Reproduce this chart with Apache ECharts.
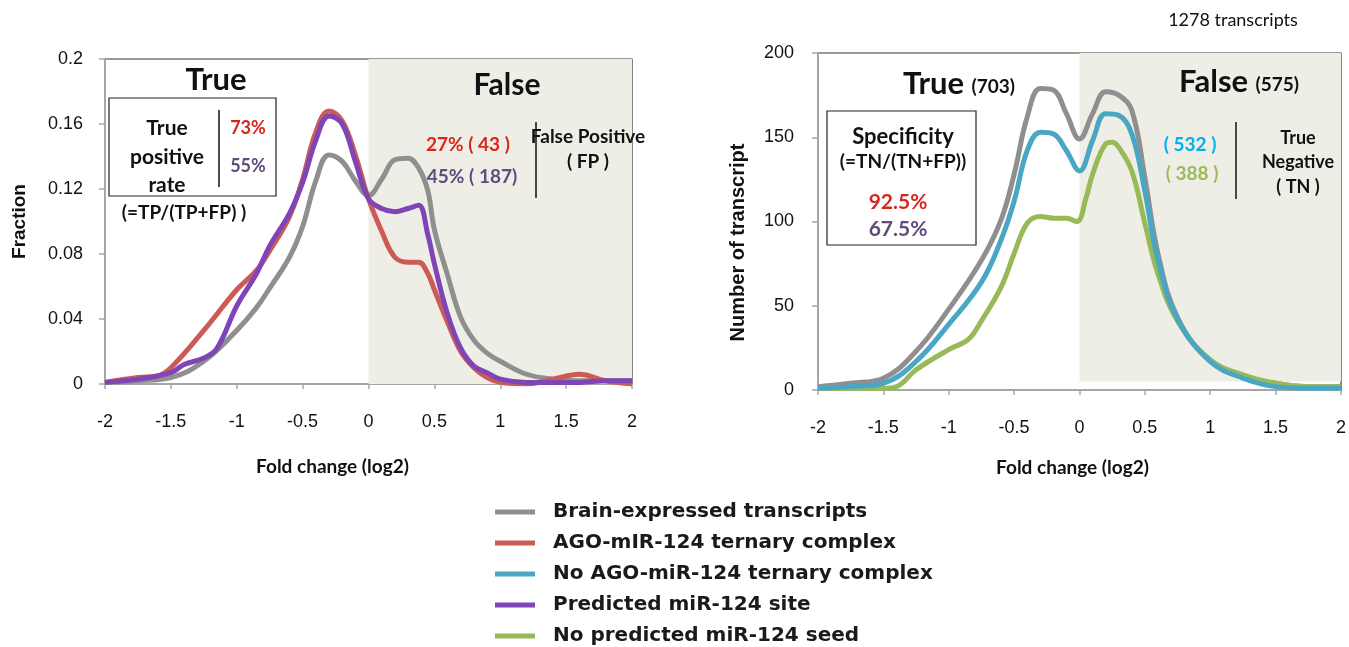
<!DOCTYPE html>
<html>
<head>
<meta charset="utf-8">
<script src="https://cdn.jsdelivr.net/npm/echarts@6/dist/echarts.min.js"></script>
<style>html,body{margin:0;padding:0;background:#fff}#c{width:1349px;height:647px}</style>
</head>
<body>
<div id="c"></div>
<script>
// ---------- data ----------
const seriesNames = ['Brain-expressed transcripts','AGO-mIR-124 ternary complex','No AGO-miR-124 ternary complex','Predicted miR-124 site','No predicted miR-124 seed'];
const xTicks = [-2,-1.5,-1,-0.5,0,0.5,1,1.5,2];
const leftYTicks = [0,0.04,0.08,0.12,0.16,0.2];
const rightYTicks = [0,50,100,150,200];

// Left panel (Fraction)
const leftGrayX = [-2,-1.75,-1.5,-1.25,-1,-0.85,-0.75,-0.6,-0.5,-0.4,-0.3,-0.2,-0.1,0,0.1,0.2,0.3,0.38,0.45,0.5,0.6,0.7,0.8,0.9,1,1.2,1.4,1.6,1.8,2];
const leftGrayY = [0.001,0.002,0.004,0.014,0.033,0.047,0.059,0.078,0.097,0.125,0.141,0.137,0.125,0.116,0.126,0.138,0.139,0.133,0.119,0.095,0.067,0.041,0.027,0.019,0.014,0.006,0.003,0.002,0.002,0.002];
const leftRedX = [-2,-1.75,-1.6,-1.5,-1.25,-1,-0.85,-0.75,-0.6,-0.5,-0.4,-0.3,-0.2,-0.1,0,0.1,0.2,0.3,0.38,0.45,0.5,0.6,0.7,0.8,0.9,1,1.2,1.4,1.6,1.8,2];
const leftRedY = [0.001,0.004,0.005,0.010,0.033,0.058,0.070,0.082,0.103,0.126,0.155,0.168,0.162,0.141,0.114,0.094,0.078,0.075,0.075,0.068,0.058,0.038,0.020,0.010,0.004,0.001,0.000,0.003,0.006,0.002,0.000];
const leftPurpleX = [-2,-1.75,-1.5,-1.4,-1.25,-1.15,-1,-0.85,-0.75,-0.6,-0.5,-0.4,-0.3,-0.2,-0.1,0,0.1,0.2,0.3,0.38,0.45,0.5,0.6,0.7,0.8,0.9,1,1.2,1.4,1.6,1.8,2];
const leftPurpleY = [0.001,0.003,0.007,0.012,0.016,0.022,0.048,0.068,0.085,0.105,0.124,0.150,0.165,0.160,0.137,0.114,0.108,0.106,0.108,0.110,0.092,0.074,0.043,0.022,0.011,0.007,0.003,0.001,0.001,0.001,0.002,0.002];

// Right panel (Number of transcript)
const rightX = [-2,-1.75,-1.5,-1.25,-1,-0.75,-0.6,-0.5,-0.4,-0.3,-0.2,-0.1,0,0.1,0.2,0.3,0.4,0.5,0.6,0.75,1,1.25,1.5,1.75,2];
const rightGrayY = [2,4,7,23,48,77,101,128,162,179,178,164,149,164,177,175,166,126,81,43,17,8,4,2,2];
const rightBlueY = [1,2,4,17,39,64,89,112,142,153,152,142,130,148,164,163,152,118,77,42,17,7,2,1,1];
const rightGreenX = [-2,-1.75,-1.5,-1.4,-1.25,-1,-0.85,-0.75,-0.6,-0.5,-0.4,-0.3,-0.2,-0.1,-0.02,0.05,0.1,0.2,0.25,0.3,0.4,0.5,0.6,0.75,1,1.25,1.5,1.75,2];
const rightGreenY = [1,1,1,2,12,24,30,41,61,81,99,103,102,102,100,114,128,146,147,144,130,99,69,41,18,9,4,2,2];

// ---------- styling ----------
const C = {gray:'#8f8f8f', red:'#cd5b55', blue:'#4aa7c4', purple:'#7f45b7', green:'#98b957', shade:'#efeee6'};
const tickFont = {fontFamily:'Liberation Sans, Arial', fontSize:18, color:'#111'};
const titleFontB = {fontFamily:'Lato, Open Sans', fontWeight:'bold', color:'#111'};
const pair = (xs, ys) => xs.map((x,i)=>[x, ys[i]]);

function xAxis(gridIndex, titleShift, gap){
  return {
    type:'value', gridIndex, min:-2, max:2, interval:0.5,
    axisLine:{show:true, onZero:false, lineStyle:{color:'#a6a6a6', width:2}},
    axisTick:{show:true, length:5, lineStyle:{color:'#a6a6a6', width:1.5}},
    axisLabel:Object.assign({margin:29, formatter:v=>String(+v.toFixed(1))}, tickFont),
    splitLine:{show:false},
    name:'Fold change (log2)', nameLocation:'middle', nameGap:gap,
    nameTextStyle:Object.assign({fontSize:19, padding:[0,titleShift,0,0]}, titleFontB)
  };
}

const option = {
  animation:false,
  backgroundColor:'#fff',
  grid:[
    {left:105, top:59, width:527, height:325, show:true, borderColor:'#333', borderWidth:1.2, backgroundColor:'transparent'},
    {left:818, top:53, width:524, height:337, show:true, borderColor:'#333', borderWidth:1.2, backgroundColor:'transparent'}
  ],
  xAxis:[xAxis(0,72,73), xAxis(1,14,68)],
  yAxis:[
    {type:'value', gridIndex:0, min:0, max:0.2, interval:0.04,
     axisLine:{show:true, onZero:false, lineStyle:{color:'#a6a6a6', width:2}},
     axisTick:{show:true, length:6, lineStyle:{color:'#a6a6a6', width:1.5}},
     axisLabel:Object.assign({margin:22, formatter:v=>String(+v.toFixed(2))}, tickFont),
     splitLine:{show:false},
     name:'Fraction', nameLocation:'middle', nameGap:76,
     nameTextStyle:{fontFamily:'Liberation Sans, Arial', fontWeight:'bold', fontSize:19, color:'#111'}},
    {type:'value', gridIndex:1, min:0, max:200, interval:50,
     axisLine:{show:true, onZero:false, lineStyle:{color:'#a6a6a6', width:2}},
     axisTick:{show:true, length:6, lineStyle:{color:'#a6a6a6', width:1.5}},
     axisLabel:Object.assign({margin:24}, tickFont),
     splitLine:{show:false},
     name:'Number of transcript', nameLocation:'middle', nameGap:70,
     nameTextStyle:{fontFamily:'Liberation Sans, Arial', fontWeight:'bold', fontSize:20, color:'#111', padding:[0,42,0,0]}}
  ],
  legend:{
    orient:'vertical', left:495, top:502, padding:0, itemGap:11, itemWidth:40, itemHeight:5, icon:'rect',
    data:[seriesNames[0],seriesNames[1],seriesNames[2],seriesNames[3],seriesNames[4]],
    textStyle:{fontFamily:'DejaVu Sans', fontWeight:'bold', fontSize:20, lineHeight:19, color:'#1a1a1a', padding:[0,0,0,13]},
    selectedMode:false
  },
  series:[
    {name:seriesNames[0], type:'line', xAxisIndex:0, yAxisIndex:0, data:pair(leftGrayX,leftGrayY), smooth:0.4, symbol:'none', color:C.gray, lineStyle:{width:5, color:C.gray}, z:2,
     markArea:{silent:true, itemStyle:{color:C.shade}, data:[[{xAxis:0, yAxis:0},{xAxis:2, yAxis:0.2}]]}},
    {name:seriesNames[1], type:'line', xAxisIndex:0, yAxisIndex:0, data:pair(leftRedX,leftRedY), smooth:0.4, symbol:'none', color:C.red, lineStyle:{width:5, color:C.red}, z:3},
    {name:seriesNames[3], type:'line', xAxisIndex:0, yAxisIndex:0, data:pair(leftPurpleX,leftPurpleY), smooth:0.4, symbol:'none', color:C.purple, lineStyle:{width:5, color:C.purple}, z:4},
    {name:seriesNames[0], type:'line', xAxisIndex:1, yAxisIndex:1, data:pair(rightX,rightGrayY), smooth:0.4, symbol:'none', color:C.gray, lineStyle:{width:5, color:C.gray}, z:2,
     markArea:{silent:true, itemStyle:{color:C.shade}, data:[[{xAxis:0, yAxis:5},{xAxis:2, yAxis:200}]]}},
    {name:seriesNames[4], type:'line', xAxisIndex:1, yAxisIndex:1, data:pair(rightGreenX,rightGreenY), smooth:0.4, symbol:'none', color:C.green, lineStyle:{width:5, color:C.green}, z:3},
    {name:seriesNames[2], type:'line', xAxisIndex:1, yAxisIndex:1, data:pair(rightX,rightBlueY), smooth:0.4, symbol:'none', color:C.blue, lineStyle:{width:5, color:C.blue}, z:4}
  ],
  graphic:[]
};

// ---------- annotations ----------
const F = 'Lato, Open Sans';
function txt(x,y,text,size,color,weight,family){
  return {type:'text', z:100, style:{x, y, text, fontFamily:family||F, fontSize:size, fontWeight:weight||'bold', fill:color||'#111', align:'center', verticalAlign:'middle'}};
}
function line(x1,y1,x2,y2){
  return {type:'line', z:100, shape:{x1,y1,x2,y2}, style:{stroke:'#111', lineWidth:1.5}};
}
function box(x,y,w,h){
  return {type:'rect', z:99, shape:{x,y,width:w,height:h}, style:{fill:'#fff', stroke:'#222', lineWidth:1.2}};
}
const G = option.graphic;
const RED = '#d9261c', PUR = '#5f4b7c';
// left panel
G.push(txt(216,80,'True',31));
G.push(txt(507,85,'False',30));
G.push(box(109,98,167,98));
G.push(txt(167,128,'True',21));
G.push(txt(167,157,'positive',21));
G.push(txt(167,185,'rate',21));
G.push(line(219,110,219,187));
G.push(txt(248,128,'73%',18,RED));
G.push(txt(248,166,'55%',18,PUR));
G.push(txt(184,213,'(=TP/(TP+FP) )',19));
G.push(txt(468,145,'27% ( 43 )',19,RED));
G.push(txt(472,177,'45% ( 187)',19,PUR));
G.push(line(536,122,536,198));
G.push(txt(588,137,'False Positive',19));
G.push(txt(588,162,'( FP )',19));
// right panel
const richTF = {a:{fontFamily:F, fontWeight:'bold', fontSize:31, fill:'#111'}, b:{fontFamily:F, fontWeight:'bold', fontSize:19, fill:'#111', padding:[6,0,0,4]}};
G.push({type:'text', z:100, style:{x:959, y:84, text:'{a|True} {b|(703)}', align:'center', verticalAlign:'middle', rich:richTF}});
G.push({type:'text', z:100, style:{x:1239, y:82, text:'{a|False} {b|(575)}', align:'center', verticalAlign:'middle', rich:richTF}});
G.push(txt(1233,20,'1278 transcripts',18,'#111','normal','Lato'));
G.push(box(827,111,149,134));
G.push(txt(903,137,'Specificity',22));
G.push(txt(903,162,'(=TN/(TN+FP))',19));
G.push(txt(898,202,'92.5%',21,RED));
G.push(txt(898,229,'67.5%',21,PUR));
G.push(txt(1190,145,'( 532 )',19,'#00b0f0'));
G.push(txt(1192,174,'( 388 )',19,'#9bbb59'));
G.push(line(1236,122,1236,199));
G.push(txt(1298,138,'True',18));
G.push(txt(1298,162,'Negative',18));
G.push(txt(1298,187,'( TN )',18));

const chart = echarts.init(document.getElementById('c'), null, {renderer:'canvas'});
chart.setOption(option);
</script>
</body>
</html>
